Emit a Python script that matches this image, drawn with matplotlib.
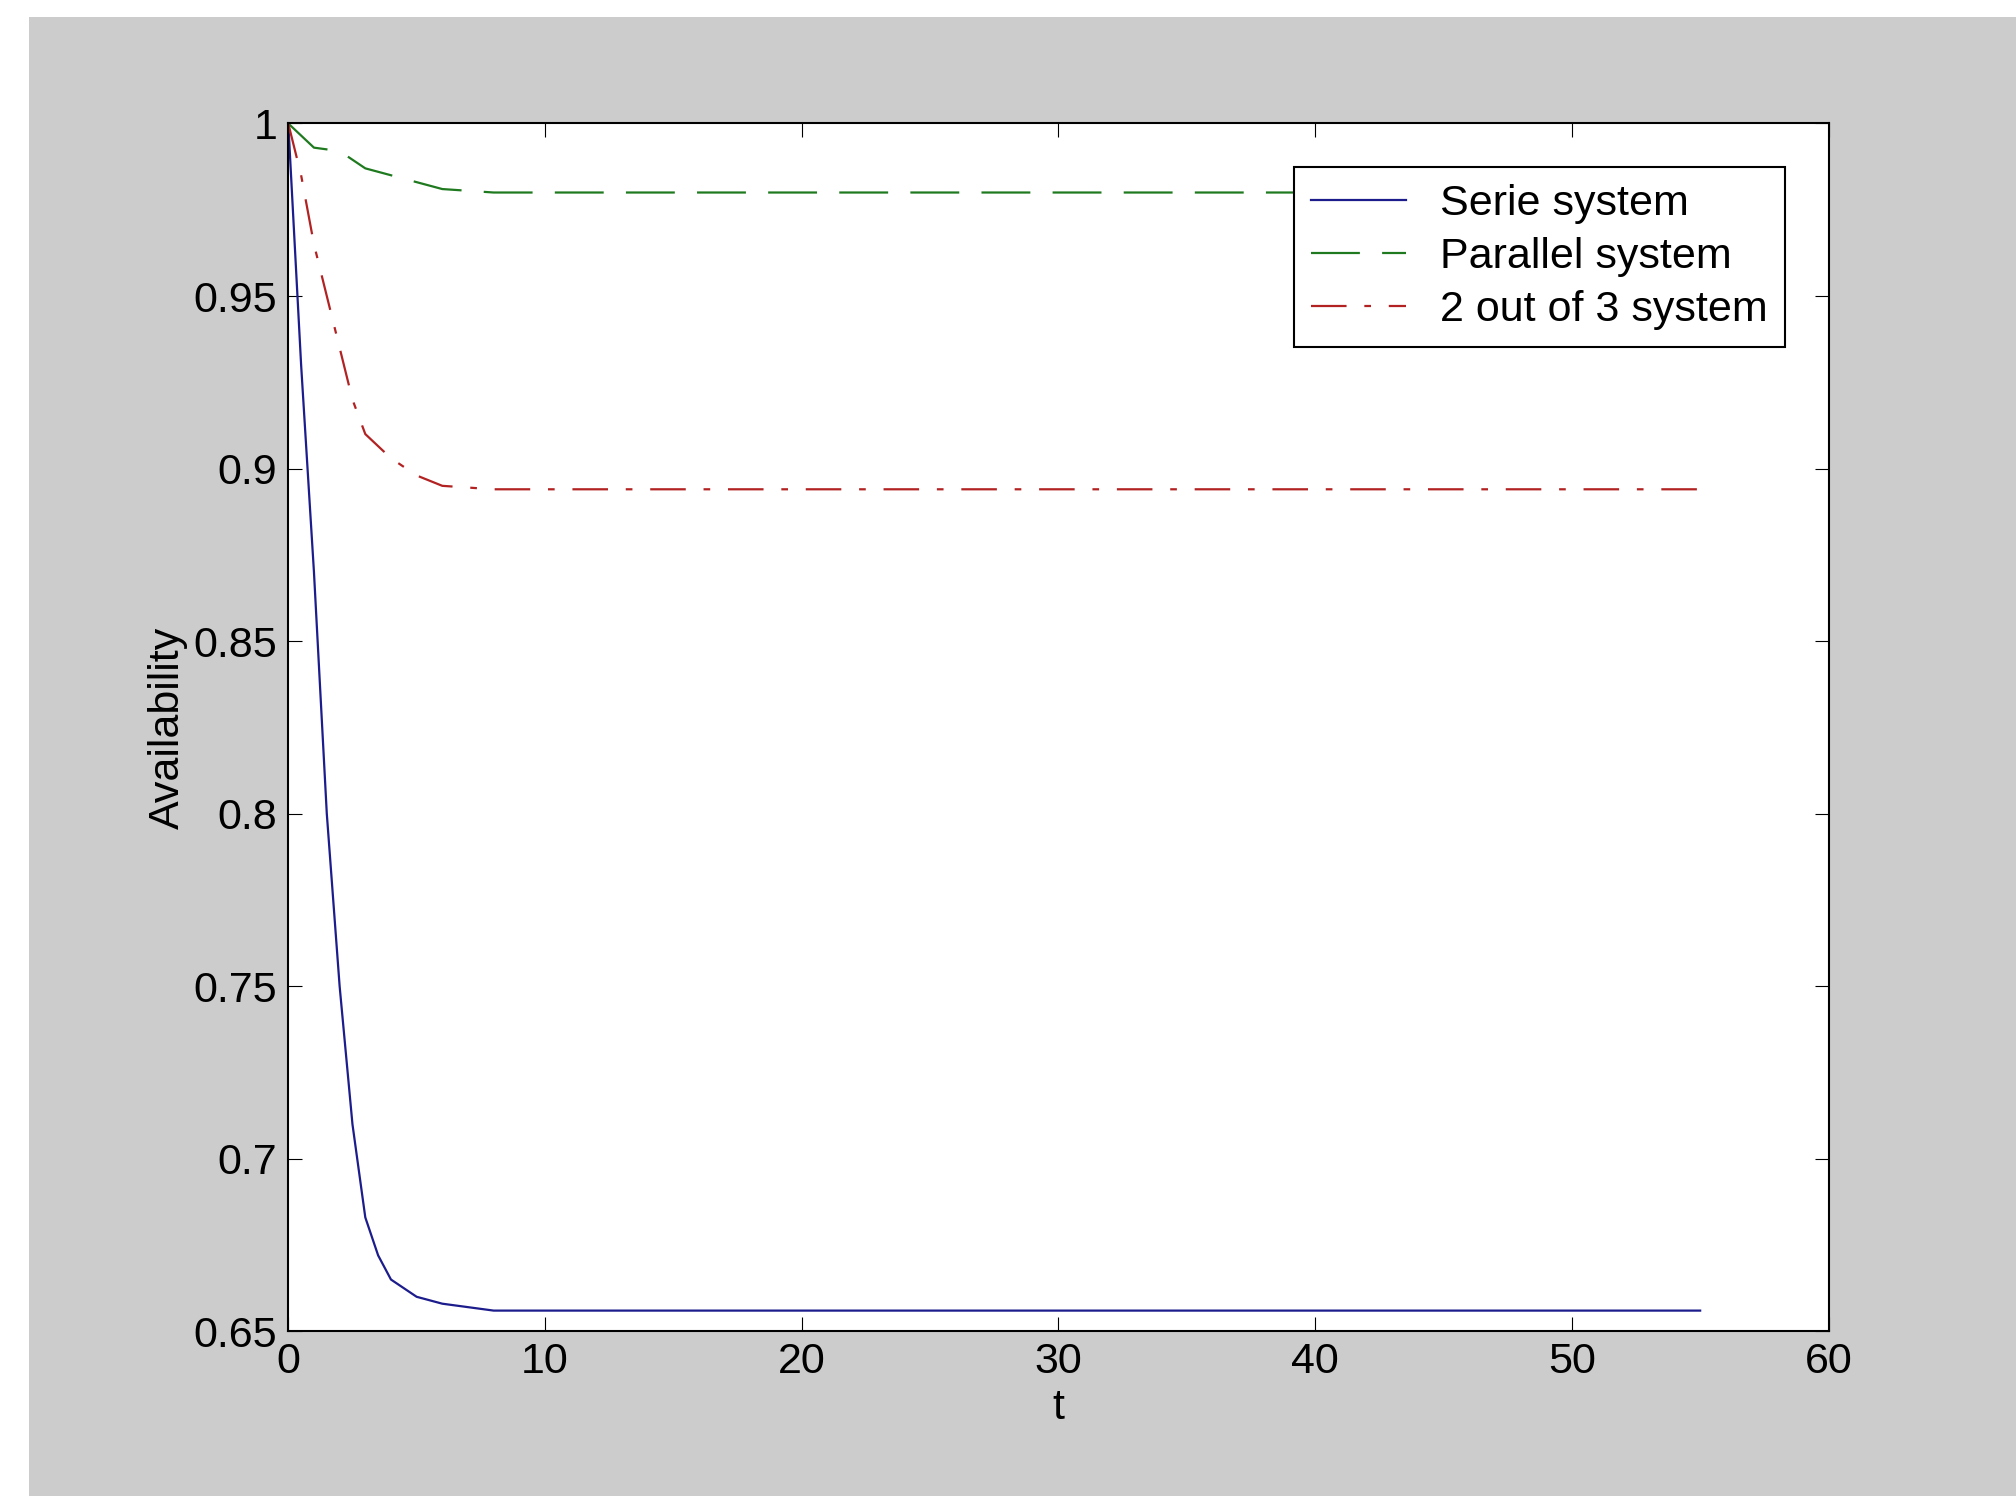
import matplotlib
matplotlib.use("Agg")
import matplotlib.pyplot as plt
from matplotlib.patches import Rectangle

plt.rcParams["font.family"] = ["Liberation Sans", "DejaVu Sans"]

t_serie = [0, 0.5, 1, 1.5, 2, 2.5, 3, 3.5, 4, 5, 6, 7, 8, 55]
a_serie = [1.0, 0.93, 0.87, 0.80, 0.75, 0.71, 0.683, 0.672, 0.665, 0.66, 0.658, 0.657, 0.656, 0.656]

t_par = [0, 1, 2, 3, 4, 5, 6, 8, 55]
a_par = [1.0, 0.993, 0.992, 0.987, 0.985, 0.983, 0.981, 0.980, 0.980]

t_2oo3 = [0, 0.5, 1, 1.5, 2, 2.5, 3, 4, 5, 6, 8, 55]
a_2oo3 = [1.0, 0.985, 0.965, 0.95, 0.935, 0.92, 0.91, 0.903, 0.898, 0.895, 0.894, 0.894]

fig = plt.figure(figsize=(20.16, 15.06), dpi=100)
fig.patches.append(Rectangle((0.0144, 0.0066), 0.9856, 0.9824, transform=fig.transFigure,
                             facecolor="#cccccc", edgecolor="none", zorder=-1))
ax = fig.add_axes([0.143, 0.116, 0.764, 0.802])
ax.plot(t_serie, a_serie, color="#1c1c8c", lw=1.6, label="Serie system")
ax.plot(t_par, a_par, color="#1f7a1f", lw=1.6, dashes=(22, 10), label="Parallel system")
ax.plot(t_2oo3, a_2oo3, color="#b22222", lw=1.6, linestyle=(0, (16, 8, 3, 8)), label="2 out of 3 system")

ax.set_xlim(0, 60)
ax.set_ylim(0.65, 1.0)
ax.set_xticks(range(0, 61, 10))
ax.set_yticks([0.65, 0.7, 0.75, 0.8, 0.85, 0.9, 0.95, 1.0])
ax.set_yticklabels(["0.65", "0.7", "0.75", "0.8", "0.85", "0.9", "0.95", "1"])
ax.tick_params(direction="in", top=True, right=True, labelsize=31, length=10, pad=8)
ax.set_xlabel("t", fontsize=31, labelpad=4)
ax.set_ylabel("Availability", fontsize=31, labelpad=4)
for s in ax.spines.values():
    s.set_linewidth(1.5)
leg = ax.legend(loc="upper right", fontsize=31, fancybox=False, framealpha=1,
                edgecolor="black", handlelength=2.2, borderaxespad=1.0,
                labelspacing=0.3, borderpad=0.4)
leg.get_frame().set_linewidth(1.5)

fig.savefig("out.png", dpi=100)
